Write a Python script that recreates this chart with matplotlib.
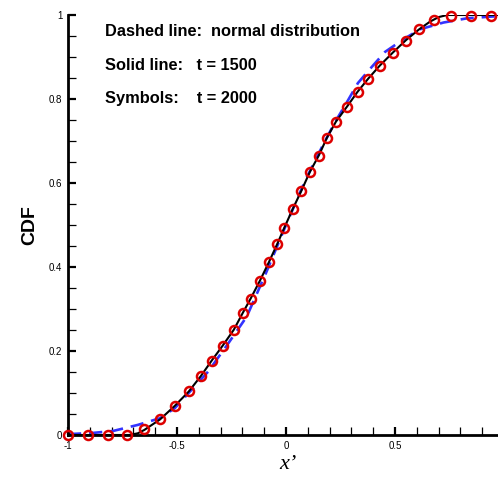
#!/usr/bin/env python3
"""CDF comparison: normal distribution vs. t = 1500 and t = 2000."""

import matplotlib
matplotlib.use('Agg')
import matplotlib.pyplot as plt
from matplotlib.ticker import MultipleLocator

###############################################################################
# Data
###############################################################################

# Dashed line: normal distribution
x_normal = [-1.0, -0.885, -0.794, -0.68, -0.578, -0.51, -0.45, -0.357, -0.265,
            -0.18, -0.09, 0.0, 0.09, 0.174, 0.225, 0.28, 0.33, 0.381, 0.454,
            0.538, 0.615, 0.722, 0.829, 0.936, 1.0]
cdf_normal = [0.002, 0.005, 0.0095, 0.024, 0.040, 0.064, 0.098, 0.151, 0.218,
              0.282, 0.388, 0.50, 0.608, 0.695, 0.745, 0.793, 0.838, 0.869,
              0.912, 0.942, 0.966, 0.982, 0.992, 0.996, 0.998]

# Solid line: t = 1500
x_1500 = [-1.0, -0.72, -0.68, -0.65, -0.578, -0.511, -0.447, -0.391, -0.341,
          -0.29, -0.239, -0.199, -0.161, -0.119, -0.078, -0.04, -0.009, 0.03,
          0.071, 0.11, 0.151, 0.188, 0.229, 0.28, 0.328, 0.378, 0.431, 0.491,
          0.55, 0.611, 0.66, 0.70, 0.74, 1.0]
cdf_1500 = [0.0, 0.0, 0.004, 0.012, 0.037, 0.069, 0.103, 0.140, 0.177, 0.213,
            0.251, 0.290, 0.326, 0.368, 0.412, 0.455, 0.492, 0.537, 0.582,
            0.627, 0.666, 0.708, 0.746, 0.782, 0.817, 0.849, 0.880, 0.911,
            0.940, 0.966, 0.984, 0.995, 1.0, 1.0]

# Symbols: t = 2000
x_2000 = [-1.0, -0.908, -0.817, -0.729, -0.65, -0.578, -0.511, -0.447, -0.391,
          -0.341, -0.29, -0.239, -0.199, -0.161, -0.119, -0.078, -0.04, -0.009,
          0.03, 0.071, 0.11, 0.151, 0.188, 0.229, 0.28, 0.328, 0.378, 0.431,
          0.491, 0.55, 0.611, 0.679, 0.759, 0.849, 0.939]
cdf_2000 = [0.0, 0.0, 0.0, 0.0, 0.0143, 0.038, 0.070, 0.1036, 0.140, 0.177,
            0.212, 0.250, 0.290, 0.325, 0.367, 0.412, 0.455, 0.492, 0.537,
            0.582, 0.627, 0.665, 0.708, 0.745, 0.780, 0.816, 0.848, 0.879,
            0.910, 0.939, 0.966, 0.989, 0.998, 0.998, 0.998]

x_ticks = [-1, -0.5, 0, 0.5]
x_tick_labels = ['-1', '-0.5', '0', '0.5']
y_ticks = [0, 0.2, 0.4, 0.6, 0.8, 1]
y_tick_labels = ['0', '0.2', '0.4', '0.6', '0.8', '1']

notes = ['Dashed line:  normal distribution',
         'Solid line:   t = 1500',
         'Symbols:    t = 2000']

###############################################################################

plt.rcParams['font.family'] = ['Liberation Sans', 'DejaVu Sans']

W, H = 498, 479
fig = plt.figure(figsize=(W / 100, H / 100), dpi=100)
ax = fig.add_axes([68 / W, 44 / H, 436 / W, 420 / H])

ax.plot(x_normal, cdf_normal, color='#3333ff', lw=1.9, dashes=[5, 3], zorder=2)
ax.plot(x_1500, cdf_1500, color='black', lw=1.5, zorder=3)
ax.plot(x_2000, cdf_2000, 'o', mfc='none', mec='#dd0000', mew=1.8, ms=6.5,
        zorder=4, clip_on=False)

ax.set_xlim(-1, 1)
ax.set_ylim(0, 1)

for side in ('top', 'right'):
    ax.spines[side].set_visible(False)
for side in ('left', 'bottom'):
    ax.spines[side].set_linewidth(2)

ax.set_xticks(x_ticks)
ax.set_xticklabels(x_tick_labels)
ax.set_yticks(y_ticks)
ax.set_yticklabels(y_tick_labels)
ax.xaxis.set_minor_locator(MultipleLocator(0.1))
ax.yaxis.set_minor_locator(MultipleLocator(0.05))
ax.tick_params(which='major', direction='in', length=6, width=1.6,
               labelsize=7, pad=4)
ax.tick_params(which='minor', direction='in', length=6, width=0.9)

ax.set_ylabel('CDF', fontsize=14, fontweight='bold', labelpad=8)
ax.set_xlabel('x\u2019', fontsize=16, fontstyle='italic',
              fontfamily='Liberation Serif')
ax.xaxis.set_label_coords((288 - 68) / 436, (435 - 455) / 420)

for i, note in enumerate(notes):
    fig.text(105 / W, 1 - (31 + 34 * i) / H, note, fontsize=11.8,
             fontweight='bold', va='center', ha='left')

fig.savefig('out.png', dpi=100)
